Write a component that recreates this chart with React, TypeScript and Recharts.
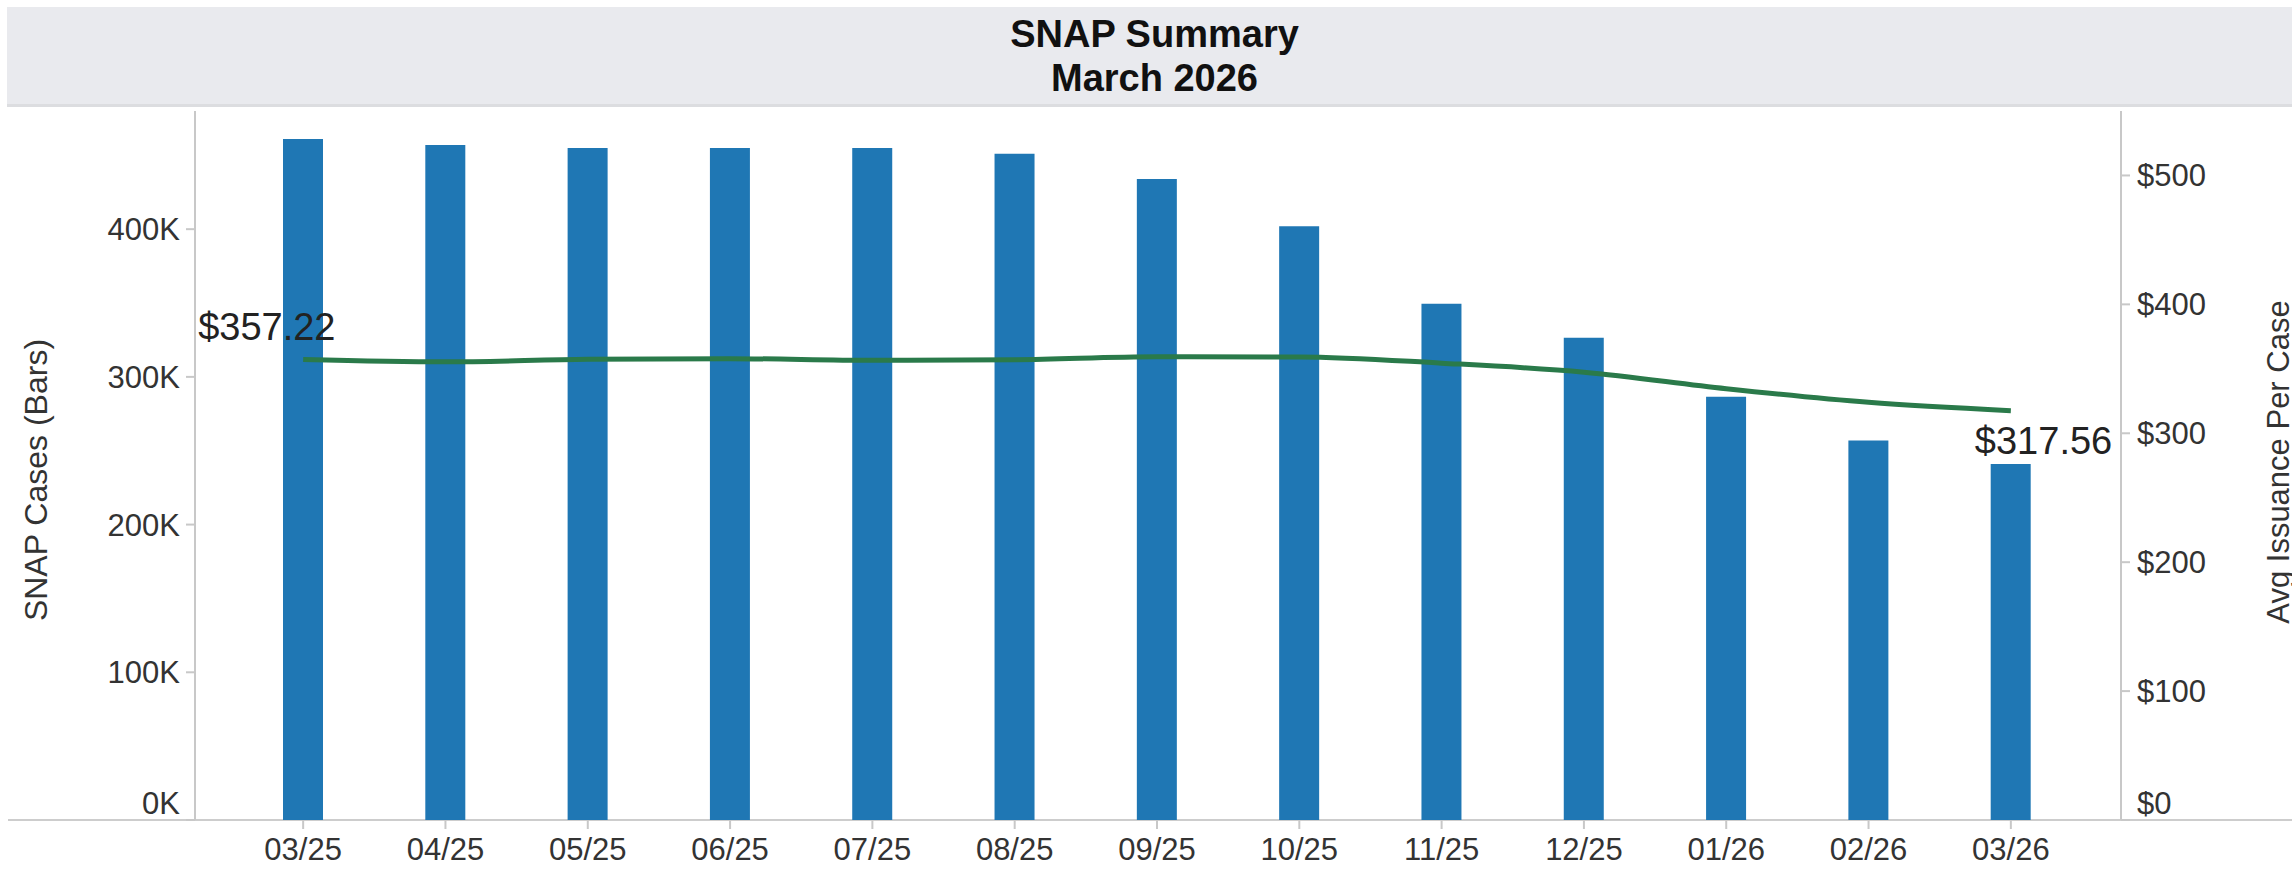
import React from "react";
import { ComposedChart, Bar, Line, XAxis, YAxis, LabelList } from "recharts";

const months = ["03/25", "04/25", "05/25", "06/25", "07/25", "08/25", "09/25", "10/25", "11/25", "12/25", "01/26", "02/26", "03/26"];
const snapCases = [461000, 457000, 455000, 455000, 455000, 451000, 434000, 402000, 349500, 326500, 286500, 257000, 241000];
const avgIssuance = [357.22, 355.4, 357.4, 357.9, 356.6, 357.1, 359.4, 359.2, 354.4, 347.4, 334.6, 324.0, 317.56];
const caseTicks = [0, 100000, 200000, 300000, 400000];
const dollarTicks = [0, 100, 200, 300, 400, 500];

const data = months.map((m, i) => ({ month: m, cases: snapCases[i], avg: avgIssuance[i] }));

const FONT = "'Liberation Sans', Arial, sans-serif";
const AXIS_GREY = "#c8c8c8";
const TEXT = "#333";

function YTick(props: any) {
  const { x, y, payload, textAnchor, formatter } = props;
  // bottom label sits a bit above the baseline, like the original
  const shift = payload.value === 0 ? -17 : 0;
  return (
    <text x={x} y={y + shift} dy="0.355em" textAnchor={textAnchor} fontSize={31} fontFamily={FONT} fill={TEXT}>
      {formatter(payload.value)}
    </text>
  );
}

function EndLabel(props: any) {
  const { x, y, index, value } = props;
  const last = data.length - 1;
  if (index !== 0 && index !== last) return null;
  const txt = "$" + Number(value).toFixed(2);
  if (index === 0) {
    return (
      <text x={x - 105} y={y - 20} fontSize={38} fontFamily={FONT} fill="#222">
        {txt}
      </text>
    );
  }
  return (
    <text x={x - 36} y={y + 43} fontSize={38} fontFamily={FONT} fill="#222">
      {txt}
    </text>
  );
}

export default function App() {
  return (
    <div style={{ position: "relative", width: 2292, height: 873, background: "#fff", overflow: "hidden" }}>
      <style>{`body{margin:0}`}</style>
      <div
        style={{
          position: "absolute",
          top: 7,
          left: 7,
          right: 0,
          height: 100,
          background: "#e9eaee",
          borderBottom: "3px solid #dcdde0",
          fontFamily: FONT,
          fontWeight: "bold",
          fontSize: 38,
          color: "#111",
          textAlign: "center",
          lineHeight: "44px",
          paddingTop: 5,
          boxSizing: "border-box",
          paddingLeft: 10,
        }}
      >
        <div>SNAP Summary</div>
        <div>March 2026</div>
      </div>
      <div style={{ position: "absolute", top: 819, left: 8, width: 2284, height: 2, background: "#cdcdcd" }} />
      <div style={{ position: "absolute", top: 0, left: 0 }}>
        <ComposedChart width={2292} height={873} data={data} margin={{ top: 111, right: 21, left: 45, bottom: 0 }}>
          <XAxis
            dataKey="month"
            height={53}
            padding={{ left: 37, right: 39 }}
            axisLine={false}
            tickLine={{ stroke: AXIS_GREY, strokeWidth: 2 }}
            tickSize={9}
            tickMargin={9}
            tick={{ fontSize: 31, fontFamily: FONT, fill: TEXT }}
            interval={0}
          />
          <YAxis
            yAxisId="left"
            orientation="left"
            width={150}
            domain={[0, 480000]}
            ticks={caseTicks}
            axisLine={{ stroke: AXIS_GREY, strokeWidth: 2 }}
            tickLine={{ stroke: AXIS_GREY, strokeWidth: 2 }}
            tickSize={9}
            tickMargin={6}
            tick={<YTick formatter={(v: number) => v / 1000 + "K"} />}
          />
          <YAxis
            yAxisId="right"
            orientation="right"
            width={150}
            domain={[0, 550]}
            ticks={dollarTicks}
            axisLine={{ stroke: AXIS_GREY, strokeWidth: 2 }}
            tickLine={{ stroke: AXIS_GREY, strokeWidth: 2 }}
            tickSize={9}
            tickMargin={7}
            tick={<YTick formatter={(v: number) => "$" + v} />}
          />
          <Bar yAxisId="left" dataKey="cases" fill="#1f77b4" barSize={40} isAnimationActive={false} />
          <Line
            yAxisId="right"
            type="monotone"
            dataKey="avg"
            stroke="#2a7a4a"
            strokeWidth={5}
            dot={false}
            activeDot={false}
            isAnimationActive={false}
          >
            <LabelList dataKey="avg" content={EndLabel} />
          </Line>
          <text
            x={47}
            y={480}
            transform="rotate(-90 47 480)"
            textAnchor="middle"
            fontSize={32}
            fontFamily={FONT}
            fill={TEXT}
          >
            SNAP Cases (Bars)
          </text>
          <text
            x={2289}
            y={462}
            transform="rotate(-90 2289 462)"
            textAnchor="middle"
            fontSize={31}
            fontFamily={FONT}
            fill={TEXT}
          >
            Avg Issuance Per Case
          </text>
        </ComposedChart>
      </div>
    </div>
  );
}
